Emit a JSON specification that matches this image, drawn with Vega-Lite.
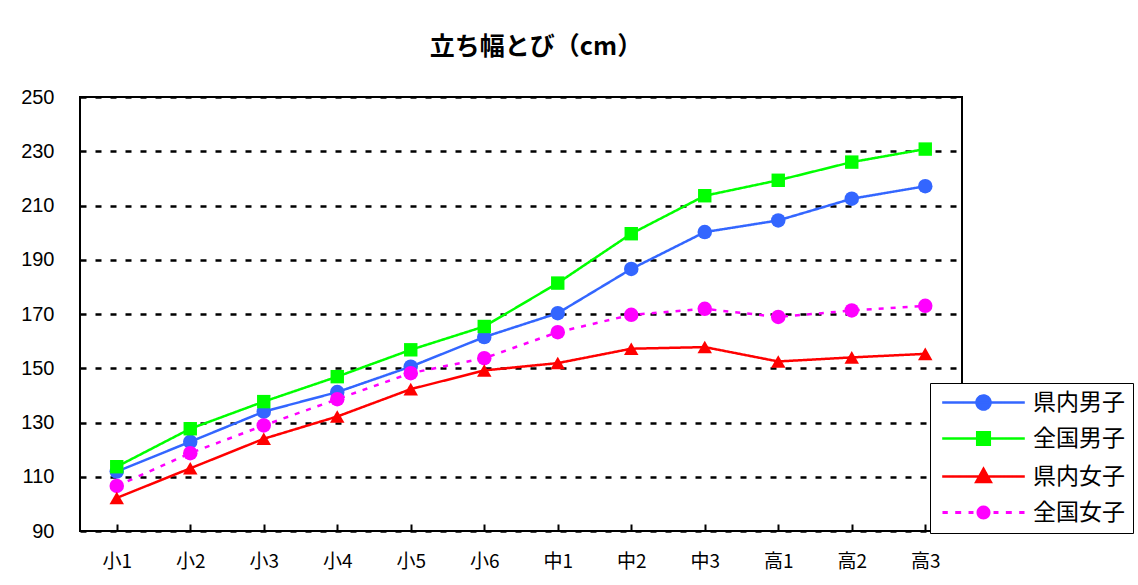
{
  "$schema": "https://vega.github.io/schema/vega-lite/v6.json",
  "width": 882,
  "height": 434,
  "autosize": {"type": "none"},
  "padding": {"left": 80, "top": 97, "right": 176, "bottom": 54},
  "background": "white",
  "title": {
    "text": "立ち幅とび（cm）",
    "font": "Noto Sans CJK JP",
    "fontSize": 25,
    "fontWeight": "bold",
    "color": "black",
    "offset": 27,
    "dx": 15
  },
  "config": {
    "view": {"stroke": "black", "strokeWidth": 2},
    "axis": {"labelColor": "black", "domain": false}
  },
  "data": {
    "values": [
      {"grade": "小1", "series": "県内男子", "value": 111.9},
      {"grade": "小2", "series": "県内男子", "value": 122.9},
      {"grade": "小3", "series": "県内男子", "value": 134.0},
      {"grade": "小4", "series": "県内男子", "value": 141.2},
      {"grade": "小5", "series": "県内男子", "value": 150.6},
      {"grade": "小6", "series": "県内男子", "value": 161.5},
      {"grade": "中1", "series": "県内男子", "value": 170.3},
      {"grade": "中2", "series": "県内男子", "value": 186.6},
      {"grade": "中3", "series": "県内男子", "value": 200.2},
      {"grade": "高1", "series": "県内男子", "value": 204.5},
      {"grade": "高2", "series": "県内男子", "value": 212.5},
      {"grade": "高3", "series": "県内男子", "value": 217.1},
      {"grade": "小1", "series": "全国男子", "value": 113.7},
      {"grade": "小2", "series": "全国男子", "value": 127.7},
      {"grade": "小3", "series": "全国男子", "value": 137.7},
      {"grade": "小4", "series": "全国男子", "value": 146.9},
      {"grade": "小5", "series": "全国男子", "value": 156.8},
      {"grade": "小6", "series": "全国男子", "value": 165.4},
      {"grade": "中1", "series": "全国男子", "value": 181.4},
      {"grade": "中2", "series": "全国男子", "value": 199.6},
      {"grade": "中3", "series": "全国男子", "value": 213.6},
      {"grade": "高1", "series": "全国男子", "value": 219.3},
      {"grade": "高2", "series": "全国男子", "value": 226.0},
      {"grade": "高3", "series": "全国男子", "value": 230.8},
      {"grade": "小1", "series": "県内女子", "value": 102.2},
      {"grade": "小2", "series": "県内女子", "value": 113.1},
      {"grade": "小3", "series": "県内女子", "value": 124.0},
      {"grade": "小4", "series": "県内女子", "value": 132.2},
      {"grade": "小5", "series": "県内女子", "value": 142.3},
      {"grade": "小6", "series": "県内女子", "value": 149.2},
      {"grade": "中1", "series": "県内女子", "value": 151.9},
      {"grade": "中2", "series": "県内女子", "value": 157.2},
      {"grade": "中3", "series": "県内女子", "value": 157.8},
      {"grade": "高1", "series": "県内女子", "value": 152.5},
      {"grade": "高2", "series": "県内女子", "value": 154.0},
      {"grade": "高3", "series": "県内女子", "value": 155.3},
      {"grade": "小1", "series": "全国女子", "value": 106.6},
      {"grade": "小2", "series": "全国女子", "value": 118.7},
      {"grade": "小3", "series": "全国女子", "value": 128.9},
      {"grade": "小4", "series": "全国女子", "value": 138.6},
      {"grade": "小5", "series": "全国女子", "value": 148.2},
      {"grade": "小6", "series": "全国女子", "value": 153.7},
      {"grade": "中1", "series": "全国女子", "value": 163.3},
      {"grade": "中2", "series": "全国女子", "value": 169.7},
      {"grade": "中3", "series": "全国女子", "value": 171.9},
      {"grade": "高1", "series": "全国女子", "value": 168.9},
      {"grade": "高2", "series": "全国女子", "value": 171.3},
      {"grade": "高3", "series": "全国女子", "value": 173.0}
    ]
  },
  "encoding": {
    "x": {
      "field": "grade",
      "type": "ordinal",
      "sort": ["小1","小2","小3","小4","小5","小6","中1","中2","中3","高1","高2","高3"],
      "scale": {"paddingInner": 0, "paddingOuter": 0},
      "axis": {
        "title": null,
        "labelAngle": 0,
        "labelFont": "Noto Sans CJK JP",
        "labelFontSize": 19,
        "labelPadding": 28,
        "bandPosition": 0,
        "tickSize": -7,
        "tickWidth": 2,
        "tickColor": "black",
        "grid": false
      }
    },
    "y": {
      "field": "value",
      "type": "quantitative",
      "scale": {"domain": [90, 250], "nice": false},
      "axis": {
        "title": null,
        "values": [90, 110, 130, 150, 170, 190, 210, 230, 250],
        "labelFont": "Liberation Sans",
        "labelFontSize": 20,
        "labelPadding": 26,
        "ticks": false,
        "grid": true,
        "gridColor": "black",
        "gridWidth": 2.5,
        "gridDash": [6, 9],
        "gridOpacity": 1
      }
    },
    "color": {
      "field": "series",
      "type": "nominal",
      "scale": {
        "domain": ["県内男子", "全国男子", "県内女子", "全国女子"],
        "range": ["#3366ff", "#00ff00", "#ff0000", "#ff00ff"]
      },
      "legend": {
        "title": null,
        "orient": "none",
        "legendX": 850,
        "legendY": 286,
        "strokeColor": "black",
        "fillColor": "white",
        "padding": 8,
        "labelFont": "Noto Sans CJK JP",
        "labelFontSize": 23,
        "labelColor": "black",
        "labelOffset": 38,
        "symbolOffset": 34,
        "rowPadding": 12,
        "symbolSize": 196,
        "symbolStrokeWidth": 2,
        "symbolOpacity": 1,
        "encode": {
          "symbols": {
            "update": {
              "shape": {"signal": "datum.value == '全国男子' ? 'M-5.9,0H5.9M-0.9,-0.9H0.9V0.9H-0.9Z' : datum.value == '県内女子' ? 'M-5.9,0H5.9M0,-1.1L1.05,0.8L-1.05,0.8Z' : datum.value == '全国女子' ? 'M-5.86,-0.21H-5.1V0.21H-5.86Z M-4.04,-0.21H-3.19V0.21H-4.04Z M-2.14,-0.21H-1.43V0.21H-2.14Z M1.43,-0.21H2.14V0.21H1.43Z M3.19,-0.21H4.04V0.21H3.19Z M5.1,-0.21H5.86V0.21H5.1Z M-1,0A1,1 0 1,0 1,0A1,1 0 1,0 -1,0Z' : 'M-5.9,0H5.9M-1,0A1,1 0 1,0 1,0A1,1 0 1,0 -1,0Z'"},
              "fill": {"scale": "color", "field": "value"},
              "stroke": {"scale": "color", "field": "value"},
              "fillOpacity": {"value": 1},
              "strokeWidth": {"signal": "datum.value == '全国女子' ? 0 : 2.5"}
            }
          }
        }
      }
    }
  },
  "layer": [
    {
      "mark": {"type": "line", "strokeWidth": 2.5},
      "encoding": {
        "strokeDash": {
          "field": "series",
          "type": "nominal",
          "scale": {"domain": ["県内男子", "全国男子", "県内女子", "全国女子"], "range": [[1, 0], [1, 0], [1, 0], [5, 7]]},
          "legend": null
        }
      }
    },
    {
      "transform": [{"filter": {"field": "series", "oneOf": ["県内男子", "全国女子"]}}],
      "mark": {"type": "point", "filled": true, "opacity": 1, "shape": "circle", "size": 210}
    },
    {
      "transform": [{"filter": {"field": "series", "equal": "全国男子"}}],
      "mark": {"type": "point", "filled": true, "opacity": 1, "shape": "square", "size": 180}
    },
    {
      "transform": [{"filter": {"field": "series", "equal": "県内女子"}}],
      "mark": {"type": "point", "filled": true, "opacity": 1, "shape": "triangle-up", "size": 210}
    }
  ]
}
